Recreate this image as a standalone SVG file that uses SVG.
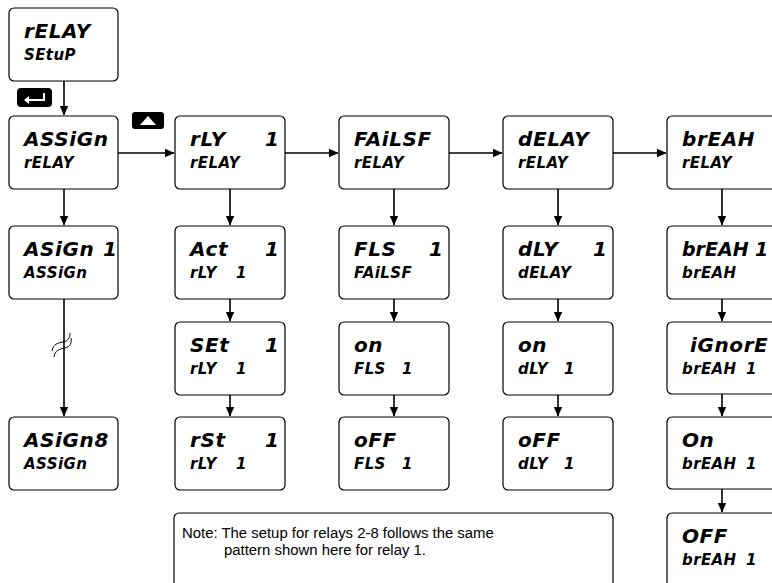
<svg xmlns="http://www.w3.org/2000/svg" width="772" height="583" viewBox="0 0 772 583">
<style>
.box{fill:#fff;stroke:#000;stroke-width:1.2}
.l1{font-family:"DejaVu Sans",sans-serif;font-weight:bold;font-style:oblique;font-size:20px;letter-spacing:0.6px;fill:#000}
.l2{font-family:"DejaVu Sans",sans-serif;font-weight:bold;font-style:oblique;font-size:15px;letter-spacing:0.4px;fill:#000}
.ln{stroke:#000;stroke-width:1.6;fill:none}
.note{font-family:"Liberation Sans",Arial,sans-serif;font-size:14.9px;fill:#000}
</style>
<defs>
<marker id="ah" markerWidth="10" markerHeight="10" refX="9" refY="5" orient="auto" markerUnits="userSpaceOnUse">
<path d="M0,0.8 L9.5,5 L0,9.2 Z" fill="#000"/>
</marker>
</defs>
<rect width="772" height="583" fill="#fff"/>

<g id="connectors">
<line class="ln" x1="64" y1="81" x2="64" y2="115" marker-end="url(#ah)"/>
<line class="ln" x1="118" y1="153" x2="174" y2="153" marker-end="url(#ah)"/>
<line class="ln" x1="285" y1="153" x2="338" y2="153" marker-end="url(#ah)"/>
<line class="ln" x1="449" y1="153" x2="502" y2="153" marker-end="url(#ah)"/>
<line class="ln" x1="613" y1="153" x2="666" y2="153" marker-end="url(#ah)"/>
<line class="ln" x1="64" y1="189" x2="64" y2="225" marker-end="url(#ah)"/>
<line class="ln" x1="230" y1="189" x2="230" y2="225" marker-end="url(#ah)"/>
<line class="ln" x1="394" y1="189" x2="394" y2="225" marker-end="url(#ah)"/>
<line class="ln" x1="558" y1="189" x2="558" y2="225" marker-end="url(#ah)"/>
<line class="ln" x1="722" y1="189" x2="722" y2="225" marker-end="url(#ah)"/>
<line class="ln" x1="64" y1="299" x2="64" y2="416" marker-end="url(#ah)"/>
<line class="ln" x1="230" y1="299" x2="230" y2="321" marker-end="url(#ah)"/>
<line class="ln" x1="394" y1="299" x2="394" y2="321" marker-end="url(#ah)"/>
<line class="ln" x1="558" y1="299" x2="558" y2="321" marker-end="url(#ah)"/>
<line class="ln" x1="722" y1="299" x2="722" y2="321" marker-end="url(#ah)"/>
<line class="ln" x1="230" y1="394" x2="230" y2="416" marker-end="url(#ah)"/>
<line class="ln" x1="394" y1="394" x2="394" y2="416" marker-end="url(#ah)"/>
<line class="ln" x1="558" y1="394" x2="558" y2="416" marker-end="url(#ah)"/>
<line class="ln" x1="722" y1="393" x2="722" y2="416" marker-end="url(#ah)"/>
<line class="ln" x1="722" y1="489" x2="722" y2="512" marker-end="url(#ah)"/>
<path d="M52,351 C53,344 58,343 63,342 C68,341 70,338 70,333" fill="none" stroke="#000" stroke-width="1"/>
<path d="M54,357 C55,350 60,349 65,348 C70,347 72,343 71,338" fill="none" stroke="#000" stroke-width="1"/>
</g>

<g id="key-enter">
<rect x="17" y="88" width="35" height="19" rx="4" fill="#000"/>
<path d="M44,93 V100 H27" fill="none" stroke="#fff" stroke-width="2"/>
<path d="M24,100 L29,96 L29,104 Z" fill="#fff"/>
</g>
<g id="key-up">
<rect x="132" y="112" width="32" height="17" rx="3" fill="#000"/>
<path d="M140,125 L156,125 L148,116 Z" fill="#fff"/>
</g>

<g id="n-relay-setup"><rect class="box" x="9" y="8" width="109" height="73" rx="5"/><text class="l1" x="24" y="38">rELAY</text><text class="l2" x="24" y="60">SEtuP</text></g>
<g id="n-assign"><rect class="box" x="9" y="116" width="109" height="73" rx="5"/><text class="l1" x="24" y="146">ASSiGn</text><text class="l2" x="24" y="168">rELAY</text></g>
<g id="n-assign1"><rect class="box" x="9" y="226" width="109" height="73" rx="5"/><text class="l1" x="24" y="256">ASiGn<tspan x="103">1</tspan></text><text class="l2" x="24" y="278">ASSiGn</text></g>
<g id="n-assign8"><rect class="box" x="9" y="417" width="109" height="73" rx="5"/><text class="l1" x="24" y="447">ASiGn8</text><text class="l2" x="24" y="469">ASSiGn</text></g>

<g id="n-rly"><rect class="box" x="175" y="116" width="110" height="73" rx="5"/><text class="l1" x="190" y="146">rLY<tspan x="265">1</tspan></text><text class="l2" x="190" y="168">rELAY</text></g>
<g id="n-act"><rect class="box" x="175" y="226" width="110" height="73" rx="5"/><text class="l1" x="190" y="256">Act<tspan x="265">1</tspan></text><text class="l2" x="190" y="278">rLY<tspan x="236">1</tspan></text></g>
<g id="n-set"><rect class="box" x="175" y="322" width="110" height="73" rx="5"/><text class="l1" x="190" y="352">SEt<tspan x="265">1</tspan></text><text class="l2" x="190" y="374">rLY<tspan x="236">1</tspan></text></g>
<g id="n-rst"><rect class="box" x="175" y="417" width="110" height="73" rx="5"/><text class="l1" x="190" y="447">rSt<tspan x="265">1</tspan></text><text class="l2" x="190" y="469">rLY<tspan x="236">1</tspan></text></g>

<g id="n-failsf"><rect class="box" x="339" y="116" width="110" height="73" rx="5"/><text class="l1" x="354" y="146">FAiLSF</text><text class="l2" x="354" y="168">rELAY</text></g>
<g id="n-fls1"><rect class="box" x="339" y="226" width="110" height="73" rx="5"/><text class="l1" x="354" y="256">FLS<tspan x="429">1</tspan></text><text class="l2" x="354" y="278">FAiLSF</text></g>
<g id="n-fls-on"><rect class="box" x="339" y="322" width="110" height="73" rx="5"/><text class="l1" x="354" y="352">on</text><text class="l2" x="354" y="374">FLS<tspan x="402">1</tspan></text></g>
<g id="n-fls-off"><rect class="box" x="339" y="417" width="110" height="73" rx="5"/><text class="l1" x="354" y="447">oFF</text><text class="l2" x="354" y="469">FLS<tspan x="402">1</tspan></text></g>

<g id="n-delay"><rect class="box" x="503" y="116" width="110" height="73" rx="5"/><text class="l1" x="518" y="146">dELAY</text><text class="l2" x="518" y="168">rELAY</text></g>
<g id="n-dly1"><rect class="box" x="503" y="226" width="110" height="73" rx="5"/><text class="l1" x="518" y="256">dLY<tspan x="593">1</tspan></text><text class="l2" x="518" y="278">dELAY</text></g>
<g id="n-dly-on"><rect class="box" x="503" y="322" width="110" height="73" rx="5"/><text class="l1" x="518" y="352">on</text><text class="l2" x="518" y="374">dLY<tspan x="564">1</tspan></text></g>
<g id="n-dly-off"><rect class="box" x="503" y="417" width="110" height="73" rx="5"/><text class="l1" x="518" y="447">oFF</text><text class="l2" x="518" y="469">dLY<tspan x="564">1</tspan></text></g>

<g id="n-break"><rect class="box" x="667" y="116" width="110" height="73" rx="5"/><text class="l1" x="682" y="146">brEAH</text><text class="l2" x="682" y="168">rELAY</text></g>
<g id="n-break1"><rect class="box" x="667" y="226" width="110" height="73" rx="5"/><text class="l1" x="682" y="256" style="font-size:19px;letter-spacing:0">brEAH<tspan x="755">1</tspan></text><text class="l2" x="682" y="278">brEAH</text></g>
<g id="n-ignore"><rect class="box" x="667" y="322" width="110" height="72" rx="5"/><text class="l1" x="690" y="352">iGnorE</text><text class="l2" x="682" y="374">brEAH<tspan x="746">1</tspan></text></g>
<g id="n-on"><rect class="box" x="667" y="417" width="110" height="72" rx="5"/><text class="l1" x="682" y="447">On</text><text class="l2" x="682" y="469">brEAH<tspan x="746">1</tspan></text></g>
<g id="n-off"><rect class="box" x="667" y="513" width="110" height="80" rx="5"/><text class="l1" x="682" y="543">OFF</text><text class="l2" x="682" y="565">brEAH<tspan x="746">1</tspan></text></g>

<g id="n-note"><rect class="box" x="174" y="513" width="439" height="85" rx="5"/><text class="note" x="182" y="538">Note: The setup for relays 2-8 follows the same</text><text class="note" x="224" y="555">pattern shown here for relay 1.</text></g>
</svg>
